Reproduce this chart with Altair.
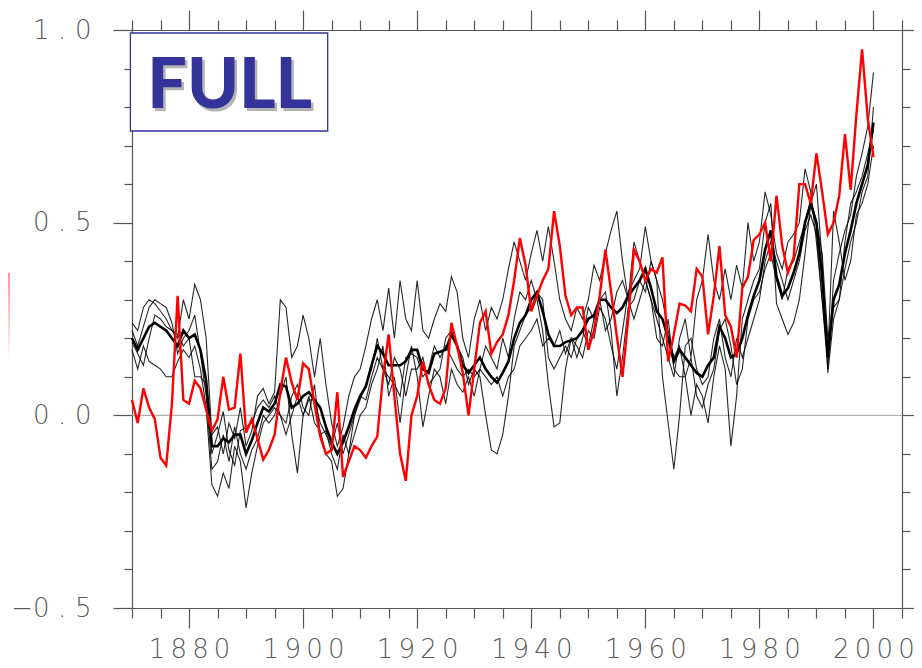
import altair as alt
import pandas as pd

# ---------------- data ----------------
years = list(range(1870, 2001))

observed = [
    0.04, -0.02, 0.07, 0.02, -0.01, -0.11, -0.13, 0.03, 0.31, 0.04,
    0.03, 0.09, 0.07, 0.015, -0.04, -0.01, 0.10, 0.015, 0.02, 0.16,
    -0.045, -0.01, -0.06, -0.115, -0.09, -0.05, 0.06, 0.15, 0.085, 0.04,
    0.135, 0.12, 0.03, -0.055, -0.10, -0.09, 0.06, -0.16, -0.12, -0.08,
    -0.09, -0.11, -0.08, -0.055, 0.10, 0.21, 0.05, -0.10, -0.17, 0.0,
    0.05, 0.14, 0.08, 0.04, 0.03, 0.07, 0.24, 0.18, 0.11, 0.0,
    0.12, 0.24, 0.27, 0.16, 0.19, 0.21, 0.26, 0.35, 0.46, 0.39,
    0.27, 0.31, 0.35, 0.38, 0.53, 0.44, 0.31, 0.26, 0.28, 0.28,
    0.17, 0.22, 0.31, 0.43, 0.32, 0.205, 0.10, 0.25, 0.43, 0.40,
    0.35, 0.38, 0.37, 0.41, 0.14, 0.21, 0.29, 0.285, 0.27, 0.38,
    0.36, 0.21, 0.31, 0.44, 0.26, 0.23, 0.15, 0.33, 0.36, 0.455,
    0.47, 0.50, 0.40, 0.57, 0.44, 0.37, 0.41, 0.60, 0.60, 0.55,
    0.68, 0.58, 0.47, 0.50, 0.57, 0.73, 0.585, 0.78, 0.95, 0.77,
    0.67,
]

ensemble_mean = [
    0.20, 0.17, 0.20, 0.23, 0.24, 0.23, 0.22, 0.20, 0.18, 0.22,
    0.20, 0.21, 0.17, 0.09, -0.08, -0.08, -0.06, -0.07, -0.05, -0.05,
    -0.10, -0.065, -0.02, 0.02, 0.01, 0.03, 0.08, 0.075, 0.02, 0.03,
    0.05, 0.06, 0.04, 0.02, -0.03, -0.07, -0.10, -0.07, -0.03, 0.015,
    0.05, 0.075, 0.13, 0.18, 0.16, 0.13, 0.13, 0.13, 0.14, 0.17,
    0.17, 0.12, 0.11, 0.16, 0.165, 0.17, 0.21, 0.18, 0.13, 0.11,
    0.13, 0.15, 0.12, 0.10, 0.085, 0.11, 0.14, 0.20, 0.24, 0.26,
    0.30, 0.32, 0.27, 0.21, 0.18, 0.18, 0.19, 0.195, 0.20, 0.22,
    0.25, 0.26, 0.30, 0.30, 0.28, 0.265, 0.28, 0.31, 0.33, 0.35,
    0.38, 0.33, 0.27, 0.25, 0.20, 0.14, 0.17, 0.15, 0.13, 0.11,
    0.10, 0.13, 0.15, 0.23, 0.20, 0.15, 0.16, 0.20, 0.26, 0.31,
    0.35, 0.43, 0.48, 0.36, 0.31, 0.33, 0.37, 0.42, 0.50, 0.55,
    0.50, 0.36, 0.15, 0.30, 0.34, 0.42, 0.48, 0.55, 0.60, 0.65,
    0.76,
]

member_1 = [
    0.24, 0.22, 0.28, 0.30, 0.29, 0.27, 0.25, 0.22, 0.20, 0.30, 0.25, 0.34, 0.30, 0.20,
    -0.05, -0.03, -0.10, -0.02, -0.06, 0.02, -0.08, -0.04, 0.05, 0.07, 0.03, 0.06,
    0.30, 0.28, 0.15, 0.18, 0.26, 0.20, 0.10, 0.20, 0.08, -0.02, -0.08, -0.03,
    0.05, 0.10, 0.12, 0.18, 0.25, 0.30, 0.22, 0.33, 0.20, 0.35, 0.25, 0.22,
    0.35, 0.22, 0.20, 0.25, 0.29, 0.27, 0.36, 0.32, 0.20, 0.15, 0.25, 0.30,
    0.22, 0.28, 0.25, 0.30, 0.38, 0.45, 0.40, 0.35, 0.42, 0.48, 0.40,
    0.49, 0.40, 0.30, 0.25, 0.22, 0.28, 0.25, 0.30, 0.39, 0.35, 0.42, 0.48,
    0.53, 0.40, 0.30, 0.45, 0.40, 0.35, 0.30, 0.25, 0.20, 0.15, 0.10, 0.20,
    0.25, 0.15, 0.30, 0.35, 0.47, 0.35, 0.30, 0.38, 0.30, 0.39,
    0.33, 0.50, 0.40, 0.45, 0.58, 0.52, 0.42, 0.38, 0.45, 0.47,
    0.50, 0.64, 0.58, 0.45, 0.30, 0.12, 0.35, 0.42, 0.48, 0.52, 0.62, 0.68, 0.75, 0.89,
]

member_2 = [
    0.22, 0.18, 0.23, 0.28, 0.30, 0.29, 0.28, 0.24, 0.16, 0.20, 0.22, 0.26, 0.16, 0.05,
    -0.14, -0.12, -0.05, -0.12, -0.03, -0.10, -0.14, -0.09, -0.06, 0.0, -0.02, 0.0,
    0.05, 0.10, -0.05, -0.15, 0.0, 0.05, -0.02, -0.04, -0.10, -0.12, -0.21, -0.19,
    -0.10, -0.05, 0.0, 0.02, 0.08, 0.12, 0.18, 0.05, 0.10, -0.02, 0.10, 0.18,
    0.10, -0.03, 0.05, 0.12, 0.10, 0.03, 0.12, 0.08, 0.06, 0.10, 0.05, 0.12,
    0.18, 0.15, 0.12, 0.20, 0.15, 0.25, 0.32, 0.30, 0.35, 0.30, 0.22,
    0.08, -0.03, -0.02, 0.12, 0.20, 0.18, 0.15, 0.22, 0.20, 0.28, 0.25, 0.18,
    0.12, 0.22, 0.32, 0.35, 0.38, 0.49, 0.40, 0.35, 0.30, 0.22, 0.15, 0.18,
    0.10, 0.0, 0.08, 0.05, -0.02, 0.10, 0.18, 0.12, -0.08, 0.05,
    0.25, 0.30, 0.35, 0.38, 0.50, 0.55, 0.29, 0.25, 0.21, 0.24,
    0.30, 0.42, 0.55, 0.60, 0.40, 0.11, 0.25, 0.30, 0.38, 0.45, 0.50, 0.58, 0.62, 0.80,
]

member_3 = [
    0.17, 0.12, 0.18, 0.14, 0.13, 0.12, 0.10, 0.10, 0.14, 0.17, 0.15, 0.18, 0.12, 0.02,
    -0.18, -0.21, -0.15, -0.19, -0.08, -0.12, -0.24, -0.15, -0.08, -0.02, 0.0, 0.02,
    0.0, -0.02, 0.05, 0.08, 0.02, 0.0, 0.08, -0.05, -0.04, -0.10, -0.14, -0.05,
    -0.10, 0.0, 0.04, 0.08, 0.12, 0.20, 0.12, 0.08, 0.15, 0.12, 0.05, 0.12,
    0.12, 0.15, 0.08, 0.10, 0.12, 0.20, 0.22, 0.18, 0.15, 0.08, 0.12, 0.10,
    0.0, -0.09, -0.10, -0.05, 0.05, 0.18, 0.22, 0.26, 0.28, 0.32, 0.30,
    0.15, 0.12, 0.15, 0.18, 0.15, 0.20, 0.22, 0.18, 0.25, 0.30, 0.32, 0.22,
    0.05, 0.15, 0.28, 0.30, 0.35, 0.32, 0.40, 0.35, 0.10, -0.02, -0.14, 0.0,
    0.18, 0.20, 0.12, 0.08, 0.10, 0.20, 0.25, 0.15, 0.10, 0.20,
    0.15, 0.20, 0.25, 0.30, 0.40, 0.45, 0.40, 0.35, 0.30, 0.35,
    0.40, 0.48, 0.52, 0.47, 0.30, 0.15, 0.53, 0.45, 0.35, 0.40, 0.52, 0.55, 0.60, 0.70,
]

member_4 = [
    0.19, 0.16, 0.13, 0.20, 0.26, 0.25, 0.23, 0.22, 0.21, 0.18, 0.20, 0.10, 0.10, 0.08,
    -0.10, -0.05, 0.01, -0.09, -0.13, -0.04, -0.03, -0.02, 0.02, 0.04, 0.02, 0.05,
    0.0, -0.05, 0.0, 0.05, 0.0, 0.04, 0.04, -0.02, -0.05, -0.08, -0.02, -0.10,
    -0.05, 0.0, 0.05, 0.04, 0.10, 0.15, 0.12, 0.10, 0.08, 0.05, 0.15, 0.16,
    0.15, 0.10, 0.12, 0.18, 0.15, 0.18, 0.15, 0.12, 0.10, 0.12, 0.10, 0.12,
    0.10, 0.08, 0.10, 0.05, 0.10, 0.12, 0.18, 0.20, 0.22, 0.25, 0.18,
    0.20, 0.18, 0.22, 0.16, 0.20, 0.15, 0.20, 0.28, 0.25, 0.30, 0.22, 0.25,
    0.32, 0.35, 0.30, 0.25, 0.30, 0.35, 0.30, 0.20, 0.18, 0.25, 0.12, 0.10,
    0.10, 0.15, 0.05, 0.02, 0.08, 0.12, 0.22, 0.25, 0.18, 0.08,
    0.12, 0.25, 0.30, 0.32, 0.38, 0.42, 0.35, 0.30, 0.38, 0.40,
    0.45, 0.50, 0.56, 0.50, 0.42, 0.20, 0.28, 0.30, 0.45, 0.55, 0.58, 0.62, 0.68, 0.74,
]

members = {"run 1": member_1, "run 2": member_2, "run 3": member_3, "run 4": member_4}

x_tick_values = list(range(1870, 2006, 5))
y_tick_values = [-0.5, -0.4, -0.3, -0.2, -0.1, 0.0, 0.1, 0.2, 0.3, 0.4,
                 0.5, 0.6, 0.7, 0.8, 0.9, 1.0]
panel_label = ["FULL"]

# ---------------- tables ----------------
obs_df = pd.DataFrame({"year": years, "value": observed})
mean_df = pd.DataFrame({"year": years, "value": ensemble_mean})
mem_df = pd.concat(
    [pd.DataFrame({"year": years, "value": v, "member": k}) for k, v in members.items()],
    ignore_index=True,
)
zero_df = pd.DataFrame({"zero": [0.0]})
label_df = pd.DataFrame({"label": panel_label})

W, H = 770, 578
xscale = alt.Scale(domain=[1870, 2005], nice=False, zero=False)
yscale = alt.Scale(domain=[-0.5, 1.0], nice=False, zero=False)

AX = "#555555"
FONT = "DejaVu Sans"
major_x = "datum.value % 20 == 0"
major_y = "abs(datum.value * 2 - round(datum.value * 2)) < 0.001"
thin = "\u2009"
tps = "\u2004"

common = dict(
    grid=False, title=None, domainColor=AX, domainWidth=1.2,
    tickColor=AX, tickWidth=1.2, labelFont=FONT, labelFontSize=26,
    labelColor="#5a5a5a", labelFontWeight=300, labelOverlap=False,
    labelFlush=False, labelBound=False,
)

x_bottom = alt.Axis(
    orient="bottom", values=x_tick_values,
    tickSize={"condition": {"test": major_x, "value": 20}, "value": 10},
    labelExpr=f"{major_x} ? join(split(format(datum.value, 'd'), ''), '{thin}') : ''",
    labelPadding=8, labelBaseline="top", **common,
)
x_top = alt.Axis(
    orient="top", values=x_tick_values,
    tickSize={"condition": {"test": major_x, "value": 20}, "value": 10},
    labels=False, **common,
)
y_left = alt.Axis(
    orient="left", values=y_tick_values,
    tickSize={"condition": {"test": major_y, "value": 19}, "value": 8},
    labelExpr=f"{major_y} ? replace(format(datum.value, '.1f'), '.', '{tps}.{tps}') : ''",
    labelPadding=22, labelAlign="right", labelBaseline="middle", **common,
)
y_right = alt.Axis(
    orient="right", values=y_tick_values,
    tickSize={"condition": {"test": major_y, "value": 19}, "value": 8},
    labels=False, **common,
)

zero_line = alt.Chart(zero_df).mark_rule(color="#a0a0a0", strokeWidth=1).encode(
    y=alt.Y("zero:Q", scale=yscale, axis=None)
)

frame = alt.Chart(obs_df).mark_point(opacity=0).encode(
    x=alt.X("year:Q", scale=xscale, axis=x_top),
    y=alt.Y("value:Q", scale=yscale, axis=y_right),
)

runs = alt.Chart(mem_df).mark_line(color="#000000", strokeWidth=1.1, opacity=0.85).encode(
    x=alt.X("year:Q", scale=xscale, axis=None),
    y=alt.Y("value:Q", scale=yscale, axis=None),
    detail="member:N",
)

mean_line = alt.Chart(mean_df).mark_line(color="#000000", strokeWidth=2.6).encode(
    x=alt.X("year:Q", scale=xscale, axis=x_bottom),
    y=alt.Y("value:Q", scale=yscale, axis=y_left),
)

obs_line = alt.Chart(obs_df).mark_line(color="#ff0000", strokeWidth=2.4).encode(
    x=alt.X("year:Q", scale=xscale, axis=None),
    y=alt.Y("value:Q", scale=yscale, axis=None),
)

box = alt.Chart(label_df).mark_rect(
    fill="white", stroke="#333399", strokeWidth=1.3
).encode(x=alt.value(-1.6), x2=alt.value(195.7), y=alt.value(3), y2=alt.value(101))

shadow = alt.Chart(label_df).mark_text(
    font="Lato", fontWeight=900, fontSize=70, color="#b4b4b4",
    align="center", baseline="alphabetic",
).encode(text="label:N", x=alt.value(100.2), y=alt.value(80.8))

label = alt.Chart(label_df).mark_text(
    font="Lato", fontWeight=900, fontSize=70, color="#333399",
    align="center", baseline="alphabetic",
).encode(text="label:N", x=alt.value(97.7), y=alt.value(78.3))

pink = alt.Chart(label_df).mark_rect(
    color=alt.Gradient(
        gradient="linear",
        stops=[alt.GradientStop(color="#ff9494", offset=0),
               alt.GradientStop(color="#ffffff", offset=1)],
        x1=0, x2=0, y1=0, y2=1,
    )
).encode(x=alt.value(-124), x2=alt.value(-122), y=alt.value(243), y2=alt.value(333))

chart = (
    alt.layer(zero_line, frame, runs, mean_line, obs_line, box, shadow, label, pink)
    .resolve_axis(x="independent", y="independent")
    .properties(
        width=W, height=H,
        autosize=alt.AutoSizeParams(type="none"),
        padding={"left": 124, "top": 22, "right": 12, "bottom": 50},
    )
    .configure_view(stroke=None)
    .configure(background="white")
)

chart.save("out.html", embed_options={"renderer": "svg", "actions": False})
